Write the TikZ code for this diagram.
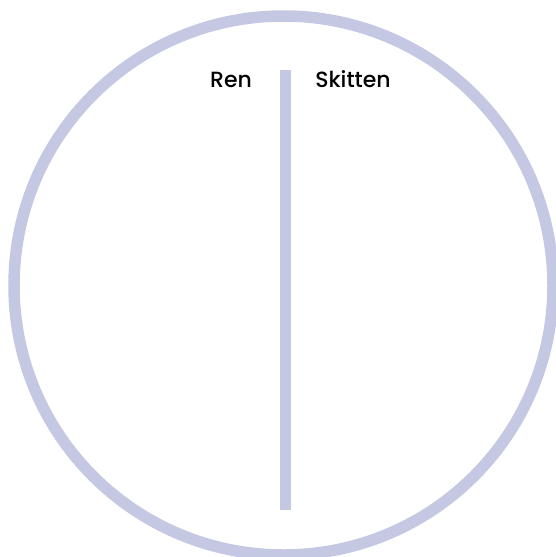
\documentclass[tikz,border=0pt]{standalone}
\usepackage{fontspec}
\setmainfont{Poppins Medium}
\definecolor{lav}{RGB}{197,200,227}
\begin{document}
\begin{tikzpicture}[x=1pt,y=-1pt,
  ring/.style={draw=lav,line width=11.5pt},
  divider/.style={draw=lav,line width=11pt},
  lbl/.style={font=\fontsize{22}{26}\selectfont,text=black,inner sep=0pt,anchor=base}]
\useasboundingbox (0,0) rectangle (556,557);
\coordinate (c) at (283.5,285.5);
\draw[ring] (c) circle[radius=269.5];
\coordinate (top) at (285,70);
\coordinate (bot) at (285,510);
\draw[divider] (top) -- (bot);
\node[lbl] (ren) at (231,87) {Ren};
\node[lbl] (skit) at (353,87) {Skitten};
\end{tikzpicture}
\end{document}
